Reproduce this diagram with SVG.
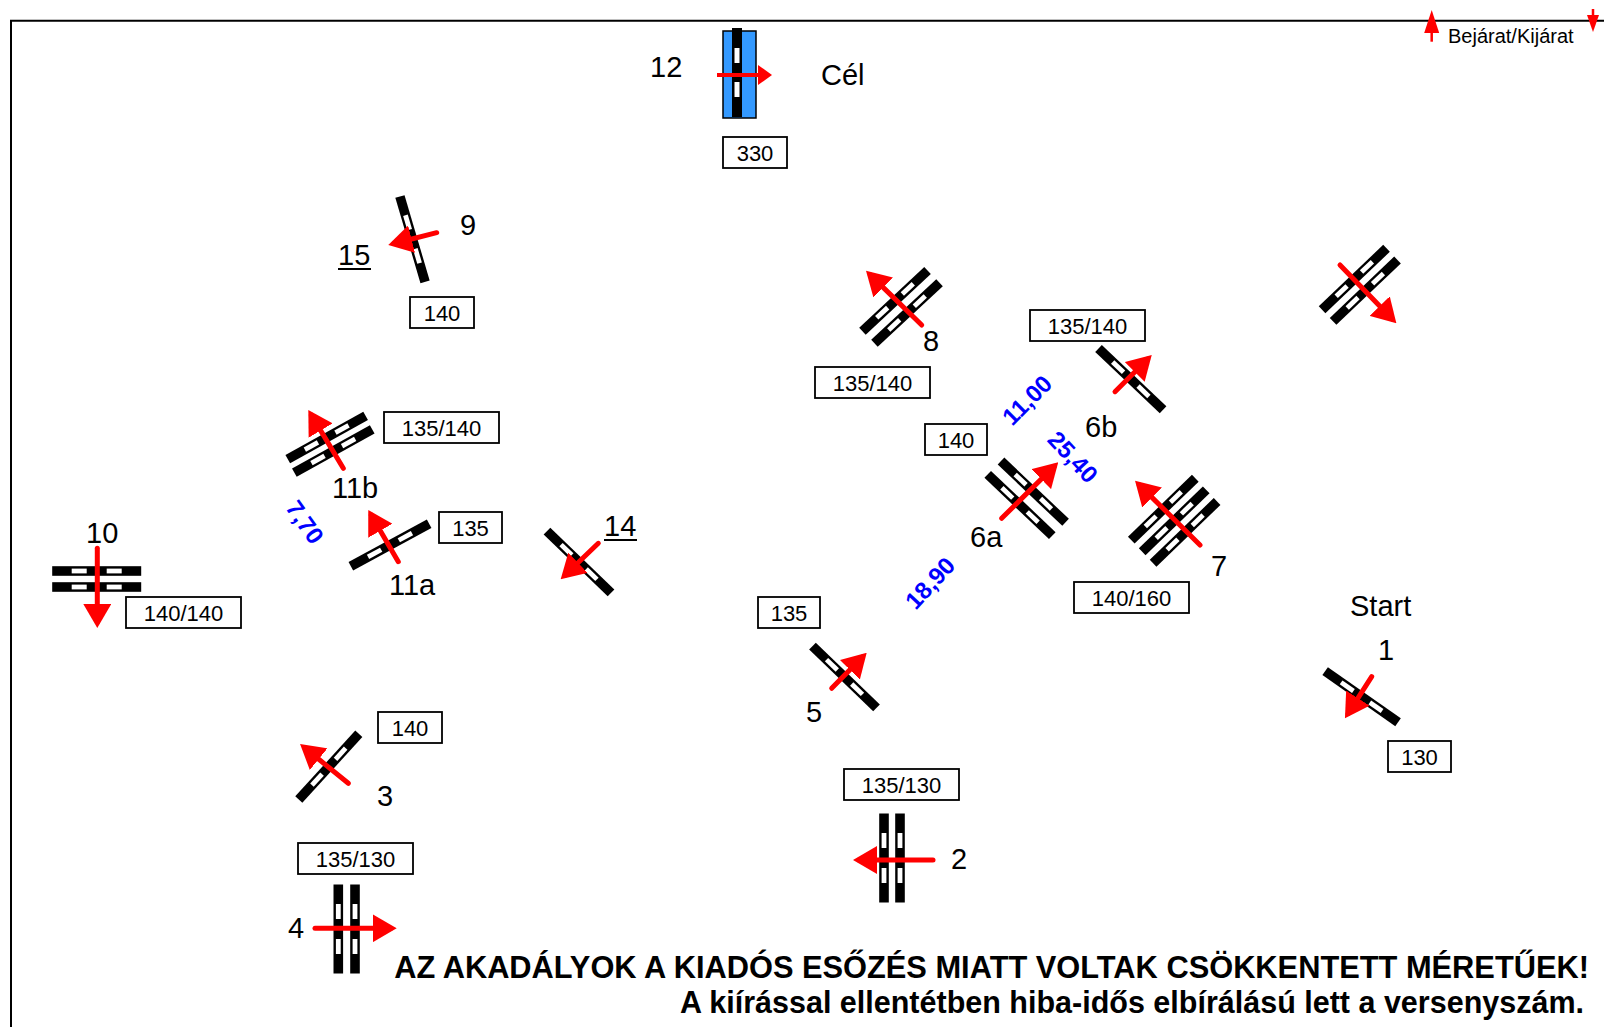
<svg xmlns="http://www.w3.org/2000/svg" xmlns:xlink="http://www.w3.org/1999/xlink" width="1604" height="1027" viewBox="0 0 1604 1027">
<style>
.lbl{font-family:"Liberation Sans",Arial,sans-serif;font-size:29px;fill:#000}
.box{fill:#fff;stroke:#000;stroke-width:1.8}
.bt{font-family:"Liberation Sans",Arial,sans-serif;font-size:22px;fill:#000;text-anchor:middle}
.blue{font-family:"Liberation Sans",Arial,sans-serif;font-size:24px;font-weight:bold;fill:#0000ff;text-anchor:middle}
.arr{stroke:#ff0000;stroke-width:5;stroke-linecap:round;fill:none;marker-end:url(#ah)}
.note{font-family:"Liberation Sans",Arial,sans-serif;font-weight:bold;fill:#000;text-anchor:end}
</style>
<defs>
<marker id="ah" markerUnits="userSpaceOnUse" markerWidth="24" markerHeight="28" viewBox="0 0 24 28" refX="18" refY="14" orient="auto"><path d="M0,0 L24,14 L0,28 Z" fill="#ff0000"/></marker>
<marker id="ahs" markerUnits="userSpaceOnUse" markerWidth="14" markerHeight="20" viewBox="0 0 14 20" refX="9" refY="10" orient="auto"><path d="M0,0 L14,10 L0,20 Z" fill="#ff0000"/></marker>
<g id="bar"><rect x="-44.5" y="-4.8" width="89" height="9.6" fill="#000"/><rect x="-25" y="-2.4" width="15" height="4.8" fill="#fff"/><rect x="10" y="-2.4" width="15" height="4.8" fill="#fff"/></g>
</defs>
<rect width="1604" height="1027" fill="#fff"/>
<g id="border" stroke="#000" stroke-width="2" fill="none">
<line x1="10" y1="20.7" x2="1604" y2="20.7"/>
<line x1="11" y1="20" x2="11" y2="1027"/>
</g>
<g id="legend">
<line x1="1431.7" y1="41.7" x2="1431.7" y2="30" stroke="#ff0000" stroke-width="2.5"/>
<polygon points="1431.7,10 1439.2,33 1424.2,33" fill="#ff0000"/>
<text x="1448" y="43.3" font-family="Liberation Sans, Arial, sans-serif" font-size="20" fill="#000">Bejárat/Kijárat</text>
<line x1="1593" y1="9" x2="1593" y2="18" stroke="#ff0000" stroke-width="2.5"/>
<polygon points="1587,15 1599,15 1593,32" fill="#ff0000"/>
</g>
<g id="fence12">
<rect x="723" y="31" width="33" height="87" fill="#3399ff" stroke="#000" stroke-width="1.5"/>
<rect x="732" y="28" width="10" height="89" fill="#000"/>
<rect x="734.5" y="48" width="5" height="15" fill="#fff"/>
<rect x="734.5" y="82" width="5" height="15" fill="#fff"/>
<line x1="717" y1="75" x2="767" y2="75" stroke="#ff0000" stroke-width="4" marker-end="url(#ahs)"/>
<text class="lbl" x="650" y="77">12</text>
<text class="lbl" x="821" y="85">Cél</text>
<rect class="box" x="723" y="137" width="64" height="31"/><text class="bt" x="755" y="160.5">330</text>
</g>
<g id="fence9">
<use xlink:href="#bar" transform="translate(412.5,239.2) rotate(73.6)"/>
<line class="arr" x1="436.7" y1="232.7" x2="394.1" y2="243.5"/>
<text class="lbl" x="460" y="235">9</text>
<text class="lbl" x="338" y="265">15</text>
<line x1="338" y1="269" x2="371" y2="269" stroke="#000" stroke-width="2"/>
<rect class="box" x="410" y="297" width="64" height="31"/><text class="bt" x="442" y="320.5">140</text>
</g>
<g id="fence8">
<use xlink:href="#bar" transform="translate(895,300.8) rotate(-43)"/>
<use xlink:href="#bar" transform="translate(907,313) rotate(-43)"/>
<line class="arr" x1="921.7" y1="325" x2="870.3" y2="274.9"/>
<text class="lbl" x="923" y="351">8</text>
<rect class="box" x="815" y="367" width="115" height="31"/><text class="bt" x="872.5" y="390.5">135/140</text>
</g>
<g id="fence6b">
<use xlink:href="#bar" transform="translate(1130.8,379.2) rotate(43.5)"/>
<line class="arr" x1="1115" y1="391.7" x2="1147.5" y2="359.2"/>
<text class="lbl" x="1085" y="437">6b</text>
<rect class="box" x="1030" y="310" width="115" height="31"/><text class="bt" x="1087.5" y="333.5">135/140</text>
</g>
<g id="fence6a">
<use xlink:href="#bar" transform="translate(1033.3,491.7) rotate(43.5)"/>
<use xlink:href="#bar" transform="translate(1020,505) rotate(43.5)"/>
<line class="arr" x1="1001.7" y1="518.3" x2="1054" y2="466.5"/>
<text class="lbl" x="970" y="547">6a</text>
<rect class="box" x="925" y="424" width="62" height="31"/><text class="bt" x="956" y="447.5">140</text>
</g>
<g id="fence7">
<use xlink:href="#bar" transform="translate(1163.3,509.2) rotate(-44)"/>
<use xlink:href="#bar" transform="translate(1174.2,520.8) rotate(-44)"/>
<use xlink:href="#bar" transform="translate(1185.1,532.4) rotate(-44)"/>
<line class="arr" x1="1200" y1="545" x2="1139.3" y2="484.9"/>
<text class="lbl" x="1211" y="576">7</text>
<rect class="box" x="1074" y="582" width="115" height="31"/><text class="bt" x="1131.5" y="605.5">140/160</text>
</g>
<g id="fence11b">
<use xlink:href="#bar" transform="translate(326.7,437.5) rotate(-29)"/>
<use xlink:href="#bar" transform="translate(333.3,451) rotate(-29)"/>
<line class="arr" x1="343.3" y1="468.3" x2="311.4" y2="415.1"/>
<text class="lbl" x="332" y="498">11b</text>
<rect class="box" x="384" y="412" width="115" height="31"/><text class="bt" x="441.5" y="435.5">135/140</text>
</g>
<g id="fence11a">
<use xlink:href="#bar" transform="translate(390,545) rotate(-28.4)"/>
<line class="arr" x1="398.3" y1="561.7" x2="371.3" y2="515.2"/>
<text class="lbl" x="389" y="595">11a</text>
<rect class="box" x="439" y="512" width="63" height="31"/><text class="bt" x="470.5" y="535.5">135</text>
</g>
<g id="fence14">
<use xlink:href="#bar" transform="translate(579,562) rotate(44)"/>
<line class="arr" x1="598.3" y1="543.3" x2="565" y2="575.2"/>
<text class="lbl" x="604" y="536">14</text>
<line x1="604" y1="540" x2="637" y2="540" stroke="#000" stroke-width="2"/>
</g>
<g id="fence10">
<use xlink:href="#bar" transform="translate(96.7,571)"/>
<use xlink:href="#bar" transform="translate(96.7,587)"/>
<line class="arr" x1="97.3" y1="548.3" x2="97.3" y2="622"/>
<text class="lbl" x="86" y="543">10</text>
<rect class="box" x="126" y="597" width="115" height="31"/><text class="bt" x="183.5" y="620.5">140/140</text>
</g>
<g id="fence-exit">
<use xlink:href="#bar" transform="translate(1354.3,279) rotate(-43.6)"/>
<use xlink:href="#bar" transform="translate(1365.3,290.7) rotate(-43.6)"/>
<line class="arr" x1="1340" y1="265" x2="1392.2" y2="319"/>
</g>
<g id="fence5">
<use xlink:href="#bar" transform="translate(844.5,677) rotate(44)"/>
<line class="arr" x1="831.7" y1="688.3" x2="862.5" y2="657"/>
<text class="lbl" x="806" y="722">5</text>
<rect class="box" x="758" y="597" width="62" height="31"/><text class="bt" x="789" y="620.5">135</text>
</g>
<g id="fence1">
<use xlink:href="#bar" transform="translate(1361.6,696.7) rotate(35)"/>
<line class="arr" x1="1371.7" y1="676.7" x2="1348.2" y2="713.3"/>
<text class="lbl" x="1378" y="660">1</text>
<text class="lbl" x="1350" y="616">Start</text>
<rect class="box" x="1388" y="741" width="63" height="31"/><text class="bt" x="1419.5" y="764.5">130</text>
</g>
<g id="fence2">
<use xlink:href="#bar" transform="translate(884,858) rotate(90)"/>
<use xlink:href="#bar" transform="translate(900,858) rotate(90)"/>
<line class="arr" x1="933" y1="860" x2="859" y2="860"/>
<text class="lbl" x="951" y="869">2</text>
<rect class="box" x="844" y="769" width="115" height="31"/><text class="bt" x="901.5" y="792.5">135/130</text>
</g>
<g id="fence3">
<use xlink:href="#bar" transform="translate(328.8,766.7) rotate(-47.6)"/>
<line class="arr" x1="348.3" y1="783.3" x2="304.7" y2="747.8"/>
<text class="lbl" x="377" y="806">3</text>
<rect class="box" x="378" y="712" width="64" height="31"/><text class="bt" x="410" y="735.5">140</text>
</g>
<g id="fence4">
<use xlink:href="#bar" transform="translate(338.3,929) rotate(90)"/>
<use xlink:href="#bar" transform="translate(355,929) rotate(90)"/>
<line class="arr" x1="315" y1="928.3" x2="390.7" y2="928.3"/>
<text class="lbl" x="288" y="938">4</text>
<rect class="box" x="298" y="843" width="115" height="31"/><text class="bt" x="355.5" y="866.5">135/130</text>
</g>
<g id="distances">
<text class="blue" transform="translate(1027,400) rotate(-45)" y="8.5">11,00</text>
<text class="blue" transform="translate(1073,457) rotate(47)" y="8.5">25,40</text>
<text class="blue" transform="translate(930,583) rotate(-47)" y="8.5">18,90</text>
<text class="blue" transform="translate(305,522) rotate(55)" y="8.5">7,70</text>
</g>
<g id="connectors"/>
<g id="notes">
<text class="note" x="1589" y="978" font-size="30.8">AZ AKADÁLYOK A KIADÓS ESŐZÉS MIATT VOLTAK CSÖKKENTETT MÉRETŰEK!</text>
<text class="note" x="1584" y="1013" font-size="30.5">A kiírással ellentétben hiba-idős elbírálású lett a versenyszám.</text>
</g>
</svg>
